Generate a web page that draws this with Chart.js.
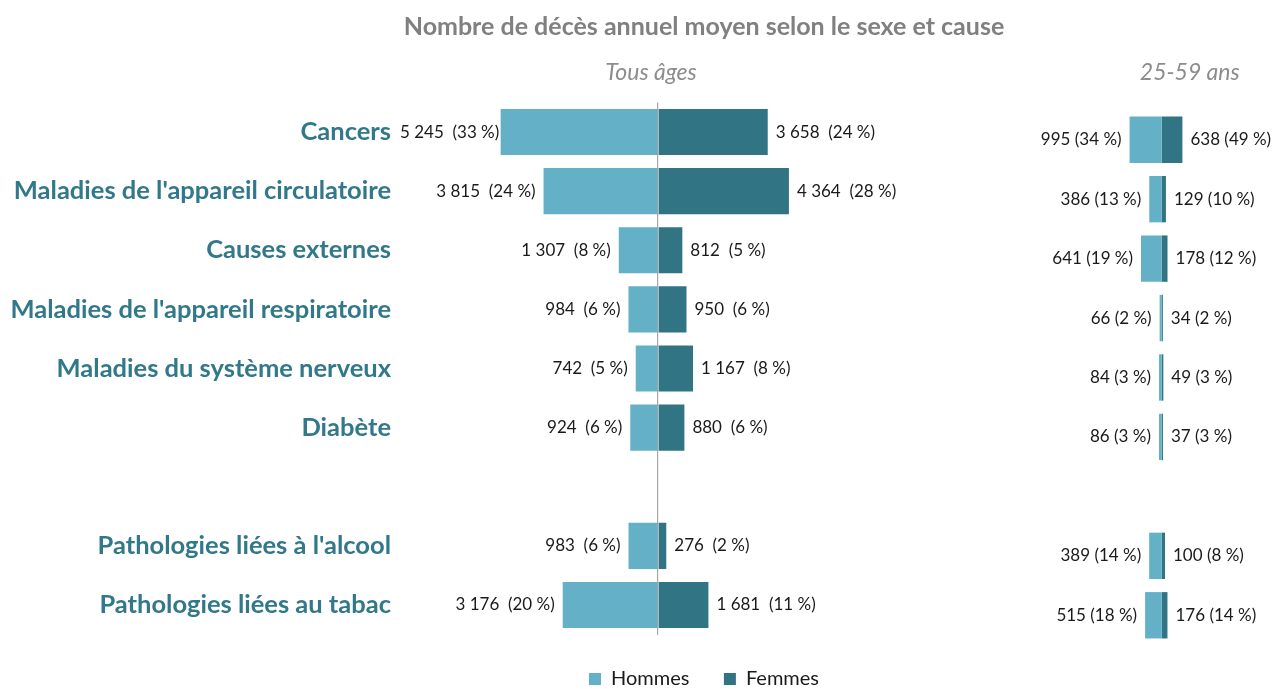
<!DOCTYPE html>
<html lang="fr">
<head>
<meta charset="utf-8">
<script src="https://cdn.jsdelivr.net/npm/chart.js@4/dist/chart.umd.min.js"></script>
<style>
    html, body { margin: 0; padding: 0; background: #fff; overflow: hidden; }
    #wrap { position: relative; width: 1275px; height: 689px; overflow: hidden; }
    #chart-tous { position: absolute; left: 0; top: 0; }
    #chart-2559 { position: absolute; left: 1000px; top: 0; }
</style>
</head>
<body>
<div id="wrap">
    <canvas id="chart-tous" width="1275" height="699"></canvas>
    <canvas id="chart-2559" width="275" height="689"></canvas>
</div>
<script>
const TITLE = 'Nombre de décès annuel moyen selon le sexe et cause';

const causes = [
    'Cancers',
    "Maladies de l'appareil circulatoire",
    'Causes externes',
    "Maladies de l'appareil respiratoire",
    'Maladies du système nerveux',
    'Diabète',
    '',
    "Pathologies liées à l'alcool",
    'Pathologies liées au tabac',
];

// tous âges
const hommesTous = [5245, 3815, 1307, 984, 742, 924, null, 983, 3176];
const femmesTous = [3658, 4364, 812, 950, 1167, 880, null, 276, 1681];
const partHommesTous = [33, 24, 8, 6, 5, 6, null, 6, 20];
const partFemmesTous = [24, 28, 5, 6, 8, 6, null, 2, 11];

// 25-59 ans
const hommes2559 = [995, 386, 641, 66, 84, 86, null, 389, 515];
const femmes2559 = [638, 129, 178, 34, 49, 37, null, 100, 176];
const partHommes2559 = [34, 13, 19, 2, 3, 3, null, 14, 18];
const partFemmes2559 = [49, 10, 12, 2, 3, 3, null, 8, 14];

const COLOR_HOMMES = '#63b0c7';
const COLOR_FEMMES = '#317585';
const COLOR_CAUSE = '#31788a';
const COLOR_GREY = '#808080';
const FONT = 'Lato, "Open Sans", sans-serif';

Chart.defaults.font.family = FONT;
Chart.defaults.color = '#1a1a1a';

/**
 * formats a count with a space as thousands separator
 *
 * @param {number} n count
 * @returns {string} formatted count
 */
function fmt(n) {
    return String(n).replace(/\B(?=(\d{3})+(?!\d))/g, ' ');
}

// writes "value (share %)" next to the end of every bar
const barLabels = {
    id: 'barLabels',
    afterDatasetsDraw(chart, args, opts) {
        const ctx = chart.ctx;
        const area = chart.chartArea;
        ctx.save();
        ctx.font = `${opts.size}px ${FONT}`;
        ctx.fillStyle = '#1a1a1a';
        ctx.textBaseline = 'middle';
        chart.data.datasets.forEach((ds, di) => {
            const meta = chart.getDatasetMeta(di);
            meta.data.forEach((bar, i) => {
                if (ds.data[i] == null) return;
                const text = fmt(Math.abs(ds.data[i])) + opts.sep + '(' + ds.shares[i] + ' %)';
                const w = ctx.measureText(text).width;
                if (ds.data[i] < 0) {
                    ctx.textAlign = 'right';
                    ctx.fillText(text, Math.max(bar.x - opts.gap, area.left + w), bar.y);
                } else {
                    ctx.textAlign = 'left';
                    ctx.fillText(text, bar.x + opts.gap, bar.y);
                }
            });
        });
        ctx.restore();
    }
};

// italic panel heading, placed relative to the zero of the x scale
const panelHeader = {
    id: 'panelHeader',
    afterDraw(chart, args, opts) {
        const ctx = chart.ctx;
        const x = chart.scales.x.getPixelForValue(0) + opts.dx;
        ctx.save();
        ctx.font = `italic 23px ${FONT}`;
        ctx.fillStyle = '#8c8c8c';
        ctx.textAlign = 'center';
        ctx.textBaseline = 'middle';
        ctx.fillText(opts.text, x, opts.y);
        ctx.restore();
    }
};

/**
 * builds the two stacked datasets, men to the left of zero
 *
 * @returns {Array} datasets
 */
function datasets(hommes, femmes, partH, partF) {
    return [{
        label: 'Hommes',
        data: hommes.map(v => v == null ? null : -v),
        shares: partH,
        backgroundColor: COLOR_HOMMES,
        barPercentage: 0.78,
        categoryPercentage: 1,
    }, {
        label: 'Femmes',
        data: femmes.slice(),
        shares: partF,
        backgroundColor: COLOR_FEMMES,
        barPercentage: 0.78,
        categoryPercentage: 1,
    }];
}

new Chart(document.getElementById('chart-tous'), {
    type: 'bar',
    data: {
        labels: causes,
        datasets: datasets(hommesTous, femmesTous, partHommesTous, partFemmesTous),
    },
    options: {
        indexAxis: 'y',
        responsive: false,
        animation: false,
        layout: { padding: { right: 267 } },
        scales: {
            x: {
                stacked: true,
                min: -8600,
                max: 11667,
                afterBuildTicks: axis => { axis.ticks = [{ value: 0 }]; },
                ticks: { display: false },
                border: { display: false },
                grid: {
                    drawTicks: false,
                    lineWidth: 1.2,
                    color: c => c.tick && c.tick.value === 0 ? '#a6a6a6' : 'transparent',
                },
            },
            y: {
                stacked: true,
                afterFit: axis => { axis.width = 400; },
                border: { display: false },
                grid: { display: false, drawTicks: false },
                ticks: {
                    autoSkip: false,
                    padding: 9,
                    color: COLOR_CAUSE,
                    font: { size: 25.5, weight: 'bold' },
                },
            },
        },
        plugins: {
            title: {
                display: true,
                text: TITLE,
                fullSize: false,
                color: COLOR_GREY,
                font: { size: 25, weight: 'bold' },
                padding: { top: 12, bottom: 60.5 },
            },
            legend: {
                position: 'bottom',
                fullSize: false,
                labels: {
                    boxWidth: 12,
                    boxHeight: 12,
                    padding: 34.5,
                    color: '#1a1a1a',
                    font: { size: 20 },
                },
            },
            tooltip: { enabled: false },
            barLabels: { size: 17, gap: 8, sep: '  ' },
            panelHeader: { text: 'Tous âges', dx: -7, y: 73 },
        },
    },
    plugins: [barLabels, panelHeader],
});

new Chart(document.getElementById('chart-2559'), {
    type: 'bar',
    data: {
        labels: causes,
        datasets: datasets(hommes2559, femmes2559, partHommes2559, partFemmes2559),
    },
    options: {
        indexAxis: 'y',
        responsive: false,
        animation: false,
        layout: { padding: { top: 110, bottom: 44 } },
        scales: {
            x: { stacked: true, min: -5000, max: 3500, display: false },
            y: { stacked: true, display: false },
        },
        plugins: {
            legend: { display: false },
            tooltip: { enabled: false },
            barLabels: { size: 17, gap: 8, sep: ' ' },
            panelHeader: { text: '25-59 ans', dx: 28, y: 73 },
        },
    },
    plugins: [barLabels, panelHeader],
});
</script>
</body>
</html>
